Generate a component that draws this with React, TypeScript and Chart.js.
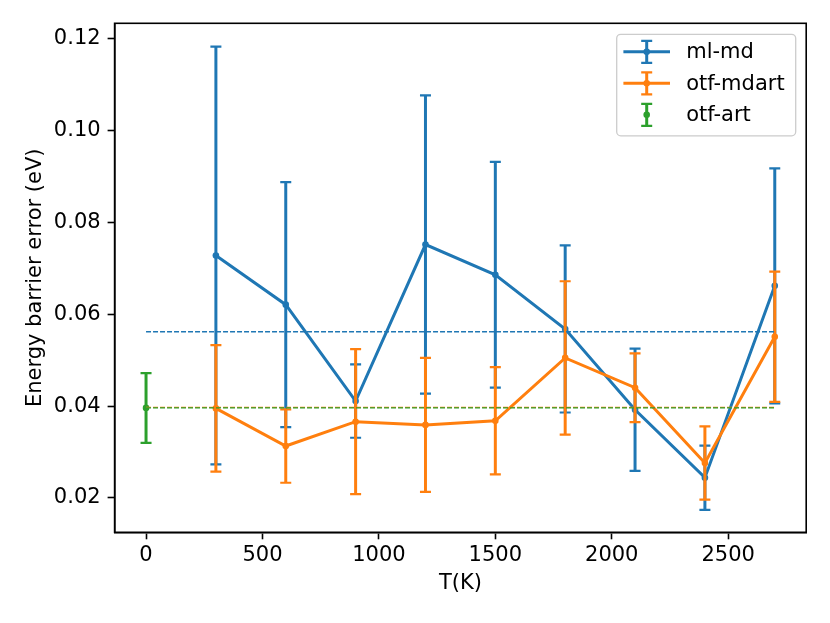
import { useEffect, useRef } from 'react'
import { Chart, ChartConfiguration, Plugin, registerables } from 'chart.js'

Chart.register(...registerables)

// temperatures (K)
const temps = [300, 600, 900, 1200, 1500, 1800, 2100, 2400, 2700]

// ml-md mean error and error bar half-height (eV)
const mlMd = [0.0728, 0.0621, 0.0411, 0.0752, 0.0686, 0.0568, 0.0392, 0.0244, 0.0662]
const mlMdErr = [0.0455, 0.0267, 0.0080, 0.0325, 0.0246, 0.0182, 0.0133, 0.0070, 0.0256]

// otf-mdart
const otfMdart = [0.0395, 0.0313, 0.0366, 0.0359, 0.0368, 0.0505, 0.0440, 0.0276, 0.0551]
const otfMdartErr = [0.0138, 0.0080, 0.0158, 0.0146, 0.0117, 0.0167, 0.0075, 0.0080, 0.0142]

// otf-art (single run at T = 0)
const otfArtT = [0]
const otfArt = [0.0396]
const otfArtErr = [0.0076]

// averages shown as dashed lines
const meanSpan = [0, 2700]
const mlMdMean = 0.0562
const otfMdartMean = 0.0397
const otfArtMean = 0.0396

const xTicks = [0, 500, 1000, 1500, 2000, 2500]
const yTicks = [0.02, 0.04, 0.06, 0.08, 0.10, 0.12]

const BLUE = '#1f77b4'
const ORANGE = '#ff7f0e'
const GREEN = '#2ca02c'
const FONT = "'DejaVu Sans', sans-serif"

const errorSeries = [
  { dataset: 0, xs: temps, ys: mlMd, errs: mlMdErr, color: BLUE },
  { dataset: 1, xs: temps, ys: otfMdart, errs: otfMdartErr, color: ORANGE },
  { dataset: 2, xs: otfArtT, ys: otfArt, errs: otfArtErr, color: GREEN },
]

const legendItems = [
  { label: 'ml-md', color: BLUE, line: true },
  { label: 'otf-mdart', color: ORANGE, line: true },
  { label: 'otf-art', color: GREEN, line: false },
]

function drawErrBar(ctx: CanvasRenderingContext2D, x: number, yTop: number, yBot: number, color: string) {
  ctx.strokeStyle = color
  ctx.lineWidth = 3
  ctx.beginPath()
  ctx.moveTo(x, yTop)
  ctx.lineTo(x, yBot)
  ctx.stroke()
  ctx.lineWidth = 2.2
  ctx.beginPath()
  ctx.moveTo(x - 5.5, yTop)
  ctx.lineTo(x + 5.5, yTop)
  ctx.moveTo(x - 5.5, yBot)
  ctx.lineTo(x + 5.5, yBot)
  ctx.stroke()
}

const errorBarPlugin: Plugin = {
  id: 'errorBars',
  beforeDatasetDraw(chart, args) {
    const s = errorSeries.find(e => e.dataset === args.index)
    if (!s) return
    const { ctx } = chart
    const xs = chart.scales.x
    const ys = chart.scales.y
    ctx.save()
    s.xs.forEach((t, i) => {
      const px = xs.getPixelForValue(t)
      drawErrBar(ctx, px, ys.getPixelForValue(s.ys[i] + s.errs[i]), ys.getPixelForValue(s.ys[i] - s.errs[i]), s.color)
    })
    ctx.restore()
  },
}

const framePlugin: Plugin = {
  id: 'frame',
  afterDatasetsDraw(chart) {
    const { ctx, chartArea: a } = chart
    ctx.save()
    ctx.strokeStyle = '#000'
    ctx.lineWidth = 1.6
    ctx.strokeRect(a.left, a.top, a.right - a.left, a.bottom - a.top)
    ctx.restore()
  },
  afterDraw(chart) {
    const { ctx, chartArea: a } = chart
    const w = 179
    const h = 101.5
    const left = a.right - 10.5 - w
    const top = a.top + 11
    ctx.save()
    ctx.beginPath()
    ctx.roundRect(left, top, w, h, 4)
    ctx.fillStyle = 'rgba(255,255,255,0.8)'
    ctx.fill()
    ctx.strokeStyle = '#cccccc'
    ctx.lineWidth = 1.3
    ctx.stroke()
    ctx.font = `21px ${FONT}`
    ctx.textBaseline = 'middle'
    legendItems.forEach((item, i) => {
      const cy = top + 17.5 + i * 31.5
      const cx = left + 30
      if (item.line) {
        ctx.strokeStyle = item.color
        ctx.lineWidth = 3
        ctx.beginPath()
        ctx.moveTo(left + 6.7, cy)
        ctx.lineTo(left + 53.3, cy)
        ctx.stroke()
      }
      drawErrBar(ctx, cx, cy - 11, cy + 11, item.color)
      ctx.fillStyle = item.color
      ctx.beginPath()
      ctx.arc(cx, cy, 3.3, 0, Math.PI * 2)
      ctx.fill()
      ctx.fillStyle = '#000'
      ctx.fillText(item.label, left + 69.5, cy + 1)
    })
    ctx.restore()
  },
}

const points = (xs: number[], ys: number[]) => xs.map((x, i) => ({ x, y: ys[i] }))

export default function App() {
  const canvasRef = useRef<HTMLCanvasElement>(null)
  const chartRef = useRef<Chart | null>(null)

  useEffect(() => {
    document.body.style.margin = '0'
    if (!canvasRef.current) return
    if (chartRef.current) chartRef.current.destroy()
    const ctx = canvasRef.current.getContext('2d')
    if (!ctx) return

    const seriesStyle = (color: string) => ({
      borderColor: color,
      backgroundColor: color,
      borderWidth: 3,
      pointRadius: 3.3,
      pointHoverRadius: 3.3,
      pointBorderWidth: 0,
      pointBackgroundColor: color,
      tension: 0,
      fill: false,
    })
    const meanStyle = (color: string) => ({
      borderColor: color,
      borderWidth: 1.3,
      borderDash: [5, 2],
      pointRadius: 0,
      pointHoverRadius: 0,
      fill: false,
    })

    const config: ChartConfiguration = {
      type: 'line',
      data: {
        datasets: [
          { label: 'ml-md', data: points(temps, mlMd), order: 6, ...seriesStyle(BLUE) },
          { label: 'otf-mdart', data: points(temps, otfMdart), order: 5, ...seriesStyle(ORANGE) },
          { label: 'otf-art', data: points(otfArtT, otfArt), order: 4, showLine: false, ...seriesStyle(GREEN) },
          { label: 'ml-md mean', data: points(meanSpan, [mlMdMean, mlMdMean]), order: 3, ...meanStyle(BLUE) },
          { label: 'otf-mdart mean', data: points(meanSpan, [otfMdartMean, otfMdartMean]), order: 2, ...meanStyle(ORANGE) },
          { label: 'otf-art mean', data: points(meanSpan, [otfArtMean, otfArtMean]), order: 1, ...meanStyle(GREEN) },
        ] as any,
      },
      options: {
        responsive: false,
        animation: false,
        events: [],
        layout: { padding: { left: 0, right: 23.8, top: 23.3, bottom: 0 } },
        plugins: {
          legend: { display: false },
          tooltip: { enabled: false },
        },
        scales: {
          x: {
            type: 'linear',
            min: -135,
            max: 2835,
            afterFit: (scale: any) => { scale.height = 90.7 },
            afterBuildTicks: (scale: any) => { scale.ticks = xTicks.map(value => ({ value })) },
            grid: { drawOnChartArea: false, drawTicks: true, tickLength: 7, tickWidth: 1.6, tickColor: '#000' },
            border: { display: true, color: '#000', width: 1.6 },
            ticks: {
              color: '#000',
              padding: 4,
              font: { family: FONT, size: 21 },
              callback: (v: any) => String(v),
            },
            title: {
              display: true,
              text: 'T(K)',
              color: '#000',
              font: { family: FONT, size: 21 },
              padding: { top: 0, bottom: 27 },
            },
          },
          y: {
            type: 'linear',
            min: 0.0125,
            max: 0.1234,
            afterFit: (scale: any) => { scale.width = 114.6 },
            afterBuildTicks: (scale: any) => { scale.ticks = yTicks.map(value => ({ value })) },
            grid: { drawOnChartArea: false, drawTicks: true, tickLength: 7, tickWidth: 1.6, tickColor: '#000' },
            border: { display: true, color: '#000', width: 1.6 },
            ticks: {
              color: '#000',
              padding: 7,
              font: { family: FONT, size: 21 },
              callback: (v: any) => Number(v).toFixed(2),
            },
            title: {
              display: true,
              text: 'Energy barrier error (eV)',
              color: '#000',
              font: { family: FONT, size: 21 },
              padding: { top: 22.8, bottom: 0 },
            },
          },
        },
      },
      plugins: [errorBarPlugin, framePlugin],
    }

    chartRef.current = new Chart(ctx, config)

    return () => {
      if (chartRef.current) {
        chartRef.current.destroy()
        chartRef.current = null
      }
    }
  }, [])

  return (
    <div style={{ width: 830, height: 623, background: '#fff' }}>
      <canvas ref={canvasRef} width={830} height={623} style={{ width: 830, height: 623, display: 'block' }} />
    </div>
  )
}
